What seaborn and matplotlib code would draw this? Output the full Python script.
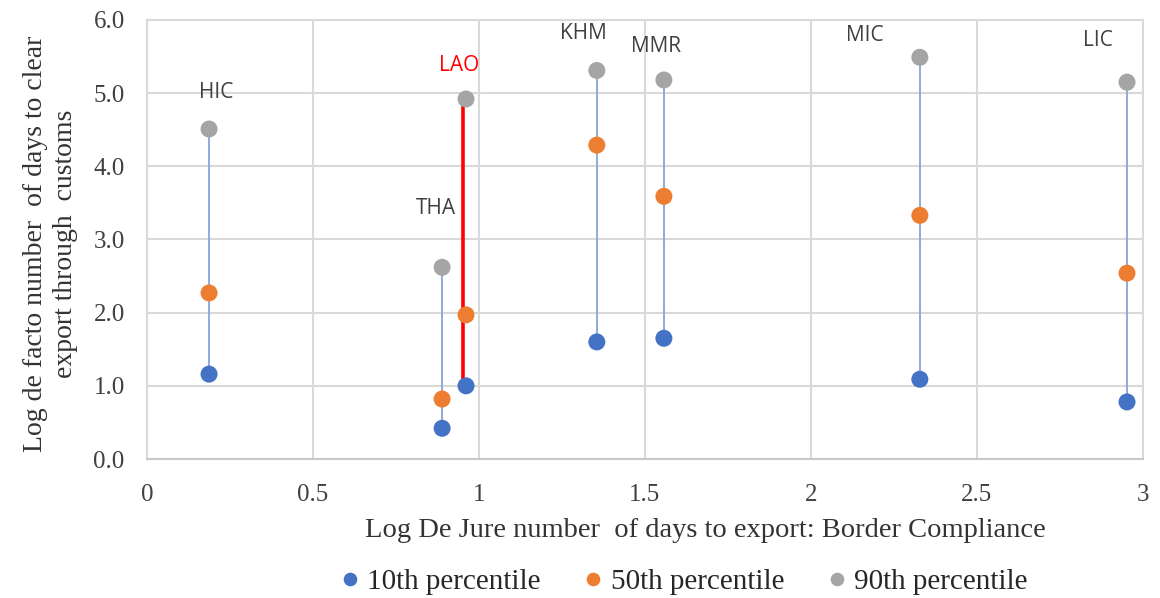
import numpy as np
import pandas as pd
import seaborn as sns
import matplotlib.pyplot as plt

# data
groups = ["HIC", "THA", "LAO", "KHM", "MMR", "MIC", "LIC"]
de_jure = [0.187, 0.889, 0.961, 1.355, 1.557, 2.328, 2.952]
p10 = [1.16, 0.42, 1.00, 1.60, 1.65, 1.09, 0.78]
p50 = [2.27, 0.82, 1.97, 4.29, 3.59, 3.33, 2.54]
p90 = [4.51, 2.62, 4.92, 5.31, 5.18, 5.49, 5.15]
series_names = ["10th percentile", "50th percentile", "90th percentile"]
series_colors = ["#4472C4", "#ED7D31", "#A5A5A5"]
x_ticks = [0, 0.5, 1, 1.5, 2, 2.5, 3]
x_tick_labels = ["0", "0.5", "1", "1.5", "2", "2.5", "3"]
y_ticks = [0, 1, 2, 3, 4, 5, 6]

# label placement (x offset from the point, absolute y)
label_dx = [0.02, -0.02, -0.02, -0.042, -0.024, -0.166, -0.087]
label_y = [5.01, 3.42, 5.38, 5.82, 5.64, 5.79, 5.72]

sns.set_theme(style="white")
plt.rcParams["font.family"] = ["Liberation Serif", "DejaVu Serif"]

df = pd.DataFrame({"group": groups, "x": de_jure,
                   series_names[0]: p10, series_names[1]: p50, series_names[2]: p90})
long = df.melt(id_vars=["group", "x"], value_vars=series_names,
               var_name="series", value_name="y")

fig = plt.figure(figsize=(11.6, 5.98), dpi=100)
ax = fig.add_axes([0.1267, 0.2324, 0.8586, 0.7342])

# range lines
for g, x, lo, hi in zip(groups, de_jure, p10, p90):
    if g == "LAO":
        ax.plot([x - 0.009, x - 0.009], [lo, hi], color="#FF0000", lw=2.6, zorder=2)
    else:
        ax.plot([x, x], [lo, hi], color="#8FAADC", lw=1.4, zorder=2)

sns.scatterplot(data=long, x="x", y="y", hue="series", hue_order=series_names,
                palette=series_colors, s=150, edgecolor="none", ax=ax, zorder=3)

for g, x, dx, ly in zip(groups, de_jure, label_dx, label_y):
    ax.text(x + dx, ly, g, ha="center", va="center", fontsize=15,
            family=["Open Sans", "DejaVu Sans"],
            color="#FF0000" if g == "LAO" else "#404040")

ax.set_xlim(0, 3)
ax.set_ylim(0, 6)
ax.set_xticks(x_ticks)
ax.set_xticklabels(x_tick_labels)
ax.set_yticks(y_ticks)
ax.set_yticklabels([f"{v:.1f}" for v in y_ticks])
ax.tick_params(axis="both", labelsize=18, length=0, colors="#404040")
ax.tick_params(axis="x", pad=18)
ax.tick_params(axis="y", pad=16)
ax.grid(True, color="#D9D9D9", lw=1.5)
ax.set_axisbelow(True)
for side in ["left", "right", "top"]:
    ax.spines[side].set_color("#D9D9D9")
    ax.spines[side].set_linewidth(1.5)
ax.spines["bottom"].set_color("#C8C8C8")
ax.spines["bottom"].set_linewidth(1.5)

ax.set_xlabel("Log De Jure number  of days to export: Border Compliance",
              fontsize=20.5, color="#333333")
ax.xaxis.set_label_coords(0.561, -0.135)
ax.set_ylabel("Log de facto number  of days to clear\nexport through  customs",
              fontsize=20, color="#333333", linespacing=1.3)
ax.yaxis.set_label_coords(-0.069, 0.49)

handles, labels = ax.get_legend_handles_labels()
ax.legend(handles, labels, loc="center", bbox_to_anchor=(0.538, -0.28),
          ncol=3, frameon=False, fontsize=21, handlelength=0.8,
          handletextpad=0.2, columnspacing=1.4, markerscale=0.8,
          labelcolor="#262626")

fig.savefig("out.png", dpi=100)
